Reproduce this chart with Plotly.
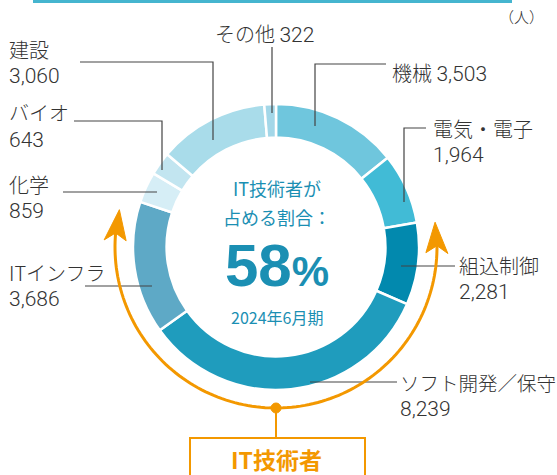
import math
import plotly.graph_objects as go

W, H = 557, 475

# ---- data ----
categories = ["機械", "電気・電子", "組込制御", "ソフト開発／保守", "ITインフラ", "化学", "バイオ", "建設", "その他"]
values = [3503, 1964, 2281, 8239, 3686, 859, 643, 3060, 322]
value_labels = ["3,503", "1,964", "2,281", "8,239", "3,686", "859", "643", "3,060", "322"]
colors = ["#6fc6dd", "#41bbd6", "#0289ae", "#1f9cbd", "#5ea9c6", "#d6eef6", "#c2e5f0", "#a9dcea", "#a3d7e8"]
it_categories = ["組込制御", "ソフト開発／保守", "ITインフラ"]
period_label = "2024年6月期"
unit_label = "（人）"

# ---- geometry (pixels) ----
CX, CY, R_OUT = 276, 247, 143
R_ARC = 161


def px(x):
    return x / W


def py(y):
    return 1 - y / H


fig = go.Figure()
fig.add_trace(go.Pie(
    labels=categories, values=values, sort=False, direction="clockwise", rotation=0,
    hole=0.765, textinfo="none", hoverinfo="label+value",
    marker=dict(colors=colors, line=dict(color="white", width=2.5)),
    domain=dict(x=[px(CX - R_OUT), px(CX + R_OUT)], y=[py(CY + R_OUT), py(CY - R_OUT)]),
    showlegend=False,
))

total = sum(values)
pct = round(100 * sum(v for c, v in zip(categories, values) if c in it_categories) / total)

shapes = []
annotations = []
TXT = "#333333"
FONT = "Noto Sans CJK JP"
NUMFONT = "Roboto"
LINE = dict(color="#444444", width=1.2)
NUM = 21  # font size of number lines


def poly(points, **kw):
    d = "M " + " L ".join(f"{px(x):.5f},{py(y):.5f}" for x, y in points)
    shapes.append(dict(type="path", path=d, xref="paper", yref="paper", **kw))


def text(x, y, s, size=20, color=TXT, xanchor="left", bold=False, family=FONT, weight=300):
    annotations.append(dict(x=px(x), y=py(y), xref="paper", yref="paper", text=s, showarrow=False,
                            xanchor=xanchor, yanchor="middle",
                            font=dict(size=size, color=color, family=family,
                                      weight="bold" if bold else weight)))


def numline(x, y, s):
    text(x, y, s, size=NUM, family=NUMFONT)


def num(s):
    return f"<span style='font-size:{NUM}px;font-family:{NUMFONT}'>{s}</span>"


# ---- leader lines & labels ----
layout_pts = {
    "その他": [(272, 47), (272, 113)],
    "機械": [(386, 64), (315, 64), (315, 126)],
    "電気・電子": [(426, 128), (404, 128), (404, 202)],
    "組込制御": [(455, 266), (401, 266)],
    "ソフト開発／保守": [(397, 382), (310, 382)],
    "ITインフラ": [(85, 286), (152, 286)],
    "化学": [(63, 192), (157, 192)],
    "バイオ": [(74, 121), (162, 121), (162, 170)],
    "建設": [(80, 62), (213, 62), (213, 140)],
}
for c in categories:
    poly(layout_pts[c], line=LINE)

lab = dict(zip(categories, value_labels))
text(264, 33, f"その他 {num(lab['その他'])}", xanchor="center")
text(390, 73, f"機械 {num(lab['機械'])}")
text(431, 128, "電気・電子")
numline(431, 155, lab["電気・電子"])
text(457, 265, "組込制御")
numline(457, 292, lab["組込制御"])
text(398, 382, "ソフト開発／保守", size=19.5)
numline(398, 409, lab["ソフト開発／保守"])
text(7, 272, "ITインフラ")
numline(7, 299, lab["ITインフラ"])
text(7, 184, "化学")
numline(7, 211, lab["化学"])
text(7, 112, "バイオ")
numline(7, 139.5, lab["バイオ"])
text(7, 49, "建設")
numline(7, 76, lab["建設"])
text(546, 17, unit_label, size=15, xanchor="right")

# ---- center text ----
TEAL = "#1b8fb3"
text(CX + 1, 188, "IT技術者が", size=18, color=TEAL, xanchor="center", weight="normal")
text(CX + 1, 217, "占める割合：", size=18, color=TEAL, xanchor="center", weight="normal")
annotations.append(dict(x=px(CX + 1), y=py(265), xref="paper", yref="paper", showarrow=False,
                        xanchor="center", yanchor="middle",
                        text=f"<b>{pct}<span style='font-size:42px'>%</span></b>",
                        font=dict(size=60, color=TEAL, family="Liberation Sans")))
text(CX + 1, 317, period_label, size=16, color=TEAL, xanchor="center", weight="normal")

# ---- orange arc over IT categories ----
ORANGE = "#f39800"
i0 = categories.index(it_categories[0])
i1 = categories.index(it_categories[-1])
f_start = sum(values[:i0]) / total
f_end = sum(values[:i1 + 1]) / total
a_start = 90 - 360 * f_start - 1      # right end (math degrees)
a_end = 90 - 360 * f_end + 5          # left end (math degrees)
HEAD = 31  # px arrowhead length
HW = 11    # px arrowhead half width
d_head = math.degrees(HEAD / R_ARC)


def pt(a, r=R_ARC):
    return (CX + r * math.cos(math.radians(a)), CY - r * math.sin(math.radians(a)))


a1 = a_start - d_head * 0.6
a2 = a_end + d_head * 0.6
n = 120
arc_pts = [pt(a1 + (a2 - a1) * k / n) for k in range(n + 1)]
poly(arc_pts, line=dict(color=ORANGE, width=3))


def head(a_tip, sign):
    tip = pt(a_tip)
    back = a_tip + sign * d_head
    notch = a_tip + sign * d_head * 0.76
    w1 = pt(back, R_ARC - HW)
    w2 = pt(back, R_ARC + HW)
    nn = pt(notch)
    d = (f"M {px(tip[0]):.5f},{py(tip[1]):.5f} L {px(w1[0]):.5f},{py(w1[1]):.5f} "
         f"L {px(nn[0]):.5f},{py(nn[1]):.5f} L {px(w2[0]):.5f},{py(w2[1]):.5f} Z")
    shapes.append(dict(type="path", path=d, xref="paper", yref="paper",
                       fillcolor=ORANGE, line=dict(color=ORANGE, width=1)))


head(a_start, -1)
head(a_end, 1)

# dot and connector to box
bx, by = pt(-90)
shapes.append(dict(type="circle", xref="paper", yref="paper",
                   x0=px(bx - 5), x1=px(bx + 5), y0=py(by + 5), y1=py(by - 5),
                   fillcolor=ORANGE, line=dict(color=ORANGE, width=1)))
poly([(bx, by), (bx, 438)], line=dict(color=ORANGE, width=2))
shapes.append(dict(type="rect", xref="paper", yref="paper",
                   x0=px(190), x1=px(365), y0=py(490), y1=py(438),
                   fillcolor="white", line=dict(color=ORANGE, width=2)))
text(bx, 459, "IT技術者", size=23, color=ORANGE, xanchor="center", bold=True)

# top header strip
shapes.append(dict(type="rect", xref="paper", yref="paper",
                   x0=px(33), x1=px(512), y0=py(3), y1=py(-6),
                   fillcolor="#45b5cf", line=dict(width=0)))

fig.update_layout(
    width=W, height=H, margin=dict(l=0, r=0, t=0, b=0),
    paper_bgcolor="white", plot_bgcolor="white",
    shapes=shapes, annotations=annotations,
    font=dict(family=FONT),
)
fig.write_html("out.html", config={"displayModeBar": False},
               post_script="document.body.style.margin='0';document.body.style.padding='0';"
                           "document.documentElement.style.overflow='hidden';")
